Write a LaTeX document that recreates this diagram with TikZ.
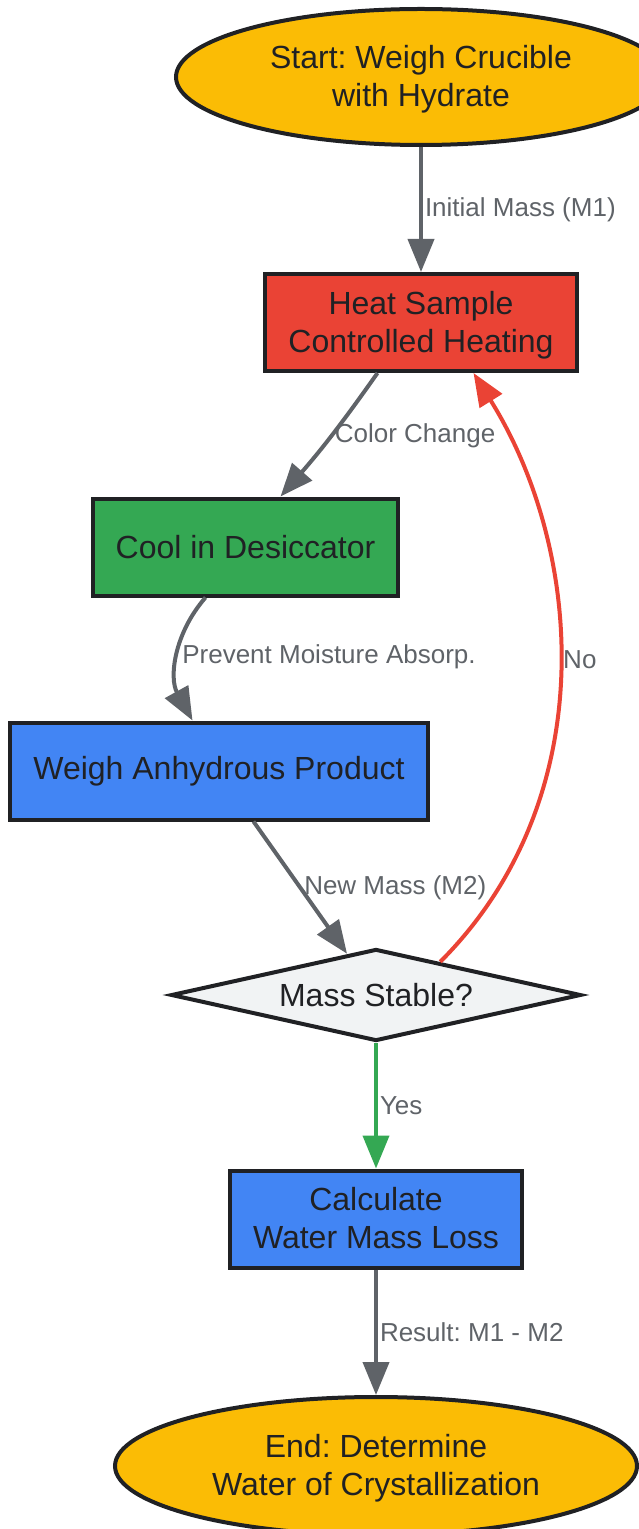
\documentclass[tikz,border=0pt]{standalone}
\usepackage{fontspec}
\setmainfont{Liberation Sans}
\usetikzlibrary{shapes.geometric,positioning,arrows.meta,calc}
\definecolor{termyellow}{HTML}{FBBC05}
\definecolor{heatred}{HTML}{EA4335}
\definecolor{coolgreen}{HTML}{34A853}
\definecolor{weighblue}{HTML}{4285F4}
\definecolor{checkgray}{HTML}{F1F3F4}
\definecolor{ink}{HTML}{202124}
\definecolor{flowgray}{HTML}{5F6368}
\frenchspacing

\begin{document}
\begin{tikzpicture}[node distance=112pt,on grid,
    >={Triangle[length=16.5pt,width=13pt]},
    every node/.style={text=ink},
    nodetext/.style={align=center,font=\fontsize{16}{19}\selectfont},
    twoline/.style={text height=33.9pt,text depth=4.1pt},
    term/.style={ellipse,draw=ink,line width=2pt,fill=termyellow,inner sep=0pt,nodetext,twoline},
    box/.style={rectangle,draw=ink,line width=2pt,minimum height=48.5pt,inner xsep=11.5pt,inner ysep=2pt,nodetext},
    check/.style={diamond,draw=ink,line width=2pt,fill=checkgray,aspect=4.4,inner sep=0pt,minimum width=205pt,minimum height=46pt,nodetext},
    flow/.style={color=flowgray,line width=2pt},
    lbl/.style={anchor=west,inner sep=1pt,text=flowgray,font=\fontsize{13}{15.6}\selectfont}]
  \useasboundingbox (0pt,0pt) rectangle (319pt,-764.5pt);

  \node[term,minimum width=245pt,minimum height=68pt] (start) at (210.5pt,-38.5pt) {Start: Weigh Crucible\\with Hydrate};
  \node[box,twoline,fill=heatred] (heat) [below=122.75pt of start] {Heat Sample\\Controlled Heating};
  \node[box,fill=coolgreen] (cool) [below left=112.25pt and 87.75pt of heat] {Cool in Desiccator};
  \node[box,fill=weighblue] (weigh) [below left=112pt and 13.25pt of cool] {Weigh Anhydrous Product};
  \node[check] (stable) [below right=112pt and 78.5pt of weigh] {Mass Stable?};
  \node[box,twoline,fill=weighblue] (calc) [below=112pt of stable] {Calculate\\Water Mass Loss};
  \node[term,minimum width=261pt,minimum height=69pt] (finish) [below=123.5pt of calc] {End: Determine\\Water of Crystallization};

  \path[->,flow]
    (start) edge node[lbl] {Initial Mass (M1)} (heat)
    ([xshift=-21.75pt]heat.south) edge[bend left=3] node[lbl] {Color Change} ([xshift=17.5pt]cool.north)
    ([xshift=-20pt]cool.south) edge[bend right=35] node[lbl] {Prevent Moisture Absorp.} ([xshift=-13.25pt]weigh.north)
    ([xshift=17.25pt]weigh.south) edge node[lbl] {New Mass (M2)} ($(stable.north)!0.14!(stable.west)$)
    (calc) edge node[lbl] {Result: M1 - M2} (finish);
  \path[->,flow,color=coolgreen] (stable) edge node[lbl] {Yes} (calc);
  \path[->,flow,color=heatred]
    ($(stable.north)!0.31!(stable.east)$) edge[out=45,in=-58,out looseness=1,in looseness=0.9] node[lbl,pos=0.52] {No} ([xshift=26.25pt]heat.south);
\end{tikzpicture}
\end{document}
